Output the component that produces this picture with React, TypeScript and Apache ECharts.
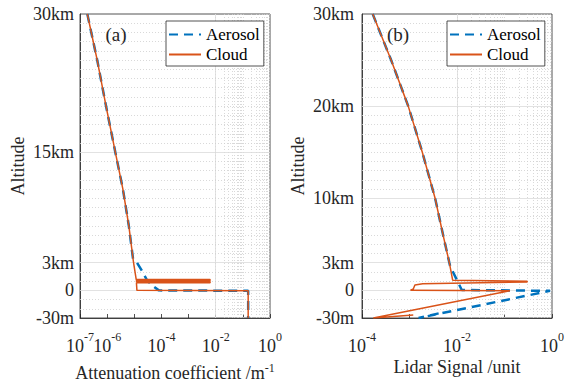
import React, { useEffect, useRef } from 'react';
import * as echarts from 'echarts';

const FONT = 'Liberation Serif, Times New Roman, serif';
const INK = '#262626';
const BLUE = '#0072BD';
const ORANGE = '#D95319';

// ---------- Panel (a): attenuation coefficient (1/m) vs altitude (km; negative = below 0, in km)
const aerosolAltA = [30, 25, 20, 15, 11, 7, 3.4, 3.1, 2.2, 1.1, 0.4, 0, -0.0005, -0.03];
const aerosolAttA = [1.86e-7, 4.3e-7, 9.1e-7, 2.0e-6, 3.8e-6, 6.3e-6, 9.0e-6, 1.2e-5, 1.85e-5, 2.96e-5, 5.2e-5, 8e-5, 0.157, 0.157];
const cloudAltA = [30, 25, 20, 15, 11, 7, 3, 1.17, 1.17, 1.06, 1.06, 0.95, 0.95, 0.84, 0.84, 0, -0.0005, -0.03];
const cloudAttA = [1.86e-7, 4.3e-7, 9.1e-7, 2.0e-6, 3.8e-6, 6.3e-6, 9.4e-6, 1.18e-5, 6.2e-3, 6.2e-3, 1.2e-5, 1.2e-5, 6.2e-3, 6.2e-3, 1.2e-5, 1.25e-5, 0.157, 0.157];

// ---------- Panel (b): lidar signal vs altitude
const aerosolAltB = [30, 25, 20, 15, 10, 6, 3, 2.6, 0.04, -0.0005, -0.03, -0.024];
const aerosolSigB = [1.68e-4, 4.1e-4, 9.4e-4, 1.86e-3, 3.46e-3, 5.1e-3, 6.9e-3, 7.2e-3, 1.26e-2, 0.91, 1.55e-3, 5e-3];
const cloudAltB = [30, 25, 20, 15, 10, 6, 3, 1.1, 1.0, 0.92, 0.73, 0.59, 0.15, 0, -0.0005, -0.03, -0.0267];
const cloudSigB = [1.68e-4, 4.1e-4, 9.4e-4, 1.86e-3, 3.46e-3, 5.1e-3, 6.9e-3, 8.1e-3, 0.30, 0.30, 1.9e-3, 1.3e-3, 1.2e-3, 1.05e-3, 0.13, 1.73e-4, 1.2e-3];

// ---------- Tick labels
const yTickKmA = [-0.03, 0, 3, 15, 30];
const yTickKmB = [-0.03, 0, 3, 10, 20, 30];
const xLabelExpA = [-7, -6, -4, -2, 0];
const xLabelExpB = [-4, -2, 0];
const xRangeExpA = [-7, 0];
const xRangeExpB = [-4, 0];
const yRange = [-3, 30];

// piecewise altitude scale: km above ground, 10 m per unit below ground
const toAxis = (km: number) => (km >= 0 ? km : Math.round(km * 100 * 1e6) / 1e6);
const kmLabel = (km: number) => (km < 0 ? `-${Math.round(-km * 1000)}m` : km === 0 ? '0' : `${km}km`);

const richLabel = {
  b: { fontFamily: FONT, fontSize: 18, lineHeight: 24, verticalAlign: 'bottom', color: INK },
  s: { fontFamily: FONT, fontSize: 12, lineHeight: 10, verticalAlign: 'top', color: INK },
};
const richName = {
  t: { fontFamily: FONT, fontSize: 18, lineHeight: 20, verticalAlign: 'bottom', color: INK },
  s: { fontFamily: FONT, fontSize: 12, lineHeight: 6, verticalAlign: 'top', color: INK },
};

function makeX(idx: number, range: number[], name: string, nameGap: number) {
  return {
    type: 'log',
    logBase: 10,
    gridIndex: idx,
    min: Math.pow(10, range[0]),
    max: Math.pow(10, range[1]),
    name,
    nameLocation: 'middle',
    nameGap,
    nameTextStyle: { fontFamily: FONT, fontSize: 18, color: INK, rich: richName },
    axisLine: { show: true, onZero: false, lineStyle: { color: INK, width: 0.8 } },
    axisTick: { show: true, inside: true, length: 4, lineStyle: { color: INK, width: 0.8 } },
    minorTick: { show: false },
    splitLine: { show: false },
    axisLabel: { show: false },
  };
}

function makeY(idx: number) {
  return {
    type: 'value',
    gridIndex: idx,
    min: yRange[0],
    max: yRange[1],
    interval: 1,
    axisLine: { show: true, onZero: false, lineStyle: { color: INK, width: 0.8 } },
    axisTick: { show: false },
    splitLine: { show: false },
    axisLabel: { show: false },
  };
}

const minorStyle = { color: '#cfcfcf', type: [1, 2], width: 0.8 };
const majorStyle = { color: '#dadada', type: 'solid', width: 0.8 };

function gridSeries(idx: number, range: number[], exps: number[], ticksKm: number[]) {
  const items: any[] = [];
  for (let e = range[0]; e < range[1]; e++) {
    for (let m = 2; m <= 9; m++) items.push({ xAxis: m * Math.pow(10, e), lineStyle: minorStyle });
    if (e > range[0]) {
      items.push({ xAxis: Math.pow(10, e), lineStyle: exps.indexOf(e) >= 0 ? majorStyle : minorStyle });
    }
  }
  const majorY = ticksKm.map(toAxis);
  for (let y = yRange[0] + 1; y < yRange[1]; y++) {
    items.push({ yAxis: y, lineStyle: majorY.some((m) => Math.abs(m - y) < 1e-6) ? majorStyle : minorStyle });
  }
  return {
    type: 'line',
    xAxisIndex: idx,
    yAxisIndex: idx,
    data: [],
    silent: true,
    z: 1,
    symbol: 'none',
    markLine: {
      silent: true,
      z: 1,
      symbol: ['none', 'none'],
      label: { show: false },
      emphasis: { disabled: true },
      animation: false,
      data: items,
    },
  };
}

function lineSeries(name: string, idx: number, xs: number[], alts: number[], color: string, dashed: boolean) {
  return {
    name,
    type: 'line',
    xAxisIndex: idx,
    yAxisIndex: idx,
    data: xs.map((x, i) => [x, toAxis(alts[i])]),
    symbol: 'none',
    showSymbol: false,
    silent: true,
    z: dashed ? 2 : 3,
    lineStyle: { color, width: dashed ? 2.5 : 1.5, type: dashed ? [9, 6] : 'solid' },
    itemStyle: { color },
  };
}

function makeLegend(left: number) {
  return {
    show: true,
    orient: 'vertical',
    left,
    top: 21,
    data: ['Aerosol', 'Cloud'],
    selectedMode: false,
    itemWidth: 32,
    itemHeight: 14,
    itemGap: 3,
    padding: [5, 4, 3, 2],
    backgroundColor: '#ffffff',
    borderColor: INK,
    borderWidth: 0.8,
    borderRadius: 0,
    itemStyle: { opacity: 0 },
    textStyle: { fontFamily: FONT, fontSize: 17, color: '#000' },
  };
}

function txt(x: number, y: number, text: string, size: number, align: string, vAlign: string, extra: any = {}, rich?: any) {
  const style: any = {
    text,
    fontFamily: FONT,
    fontSize: size,
    fill: INK,
    textAlign: align,
    textVerticalAlign: vAlign,
    align,
    verticalAlign: vAlign,
  };
  if (rich) style.rich = rich;
  return { type: 'text', x, y, z: 10, silent: true, ...extra, style };
}

export default function App() {
  const ref = useRef<HTMLDivElement>(null);
  useEffect(() => {
    if (!ref.current) return;
    const chart = echarts.init(ref.current, undefined, { renderer: 'svg' });
    const gridBase = {
      top: 14,
      width: 190,
      height: 304,
      show: true,
      backgroundColor: '#ffffff',
      borderColor: INK,
      borderWidth: 0.8,
      containLabel: false,
      outerBoundsMode: 'none',
    };
    const option: any = {
      animation: false,
      backgroundColor: '#ffffff',
      textStyle: { fontFamily: FONT },
      grid: [
        { ...gridBase, left: 80 },
        { ...gridBase, left: 362 },
      ],
      xAxis: [
        makeX(0, xRangeExpA, '{t|Attenuation coefficient /m}{s|-1}', 44),
        makeX(1, xRangeExpB, '{t|Lidar Signal /unit}', 38),
      ],
      yAxis: [makeY(0), makeY(1)],
      legend: [makeLegend(166), makeLegend(447)],
      series: [
        gridSeries(0, xRangeExpA, xLabelExpA, yTickKmA),
        lineSeries('Aerosol', 0, aerosolAttA, aerosolAltA, BLUE, true),
        lineSeries('Cloud', 0, cloudAttA, cloudAltA, ORANGE, false),
        gridSeries(1, xRangeExpB, xLabelExpB, yTickKmB),
        lineSeries('Aerosol', 1, aerosolSigB, aerosolAltB, BLUE, true),
        lineSeries('Cloud', 1, cloudSigB, cloudAltB, ORANGE, false),
      ],
    };
    chart.setOption(option);

    // axis tick labels, y titles and panel tags, placed through the chart's own scales
    const panels = [
      { idx: 0, xr: xRangeExpA, exps: xLabelExpA, ticks: yTickKmA, ym: 6, nameOff: 62.5, tag: '(a)' },
      { idx: 1, xr: xRangeExpB, exps: xLabelExpB, ticks: yTickKmB, ym: 8, nameOff: 64, tag: '(b)' },
    ];
    const g: any[] = [];
    for (const p of panels) {
      const xmin = Math.pow(10, p.xr[0]);
      const [x0, yBot] = chart.convertToPixel({ gridIndex: p.idx }, [xmin, yRange[0]]) as number[];
      const [, yTop] = chart.convertToPixel({ gridIndex: p.idx }, [xmin, yRange[1]]) as number[];
      for (const km of p.ticks) {
        const [, py] = chart.convertToPixel({ gridIndex: p.idx }, [xmin, toAxis(km)]) as number[];
        g.push(txt(x0 - p.ym, py, kmLabel(km), 18, 'right', 'middle'));
      }
      for (const e of p.exps) {
        const [px] = chart.convertToPixel({ gridIndex: p.idx }, [Math.pow(10, e), yRange[0]]) as number[];
        g.push(txt(px, yBot + 12.5, `{b|10}{s|${e}}`, 18, 'center', 'top', {}, richLabel));
      }
      g.push(txt(x0 - p.nameOff, (yTop + yBot) / 2, 'Altitude', 18, 'center', 'middle', { rotation: Math.PI / 2 }));
      g.push(txt(x0 + 36, yTop + 20, p.tag, 19, 'center', 'middle'));
    }
    chart.setOption({ graphic: g });
    return () => chart.dispose();
  }, []);
  return <div ref={ref} style={{ position: 'fixed', left: 0, top: 0, width: 565, height: 386 }} />;
}
